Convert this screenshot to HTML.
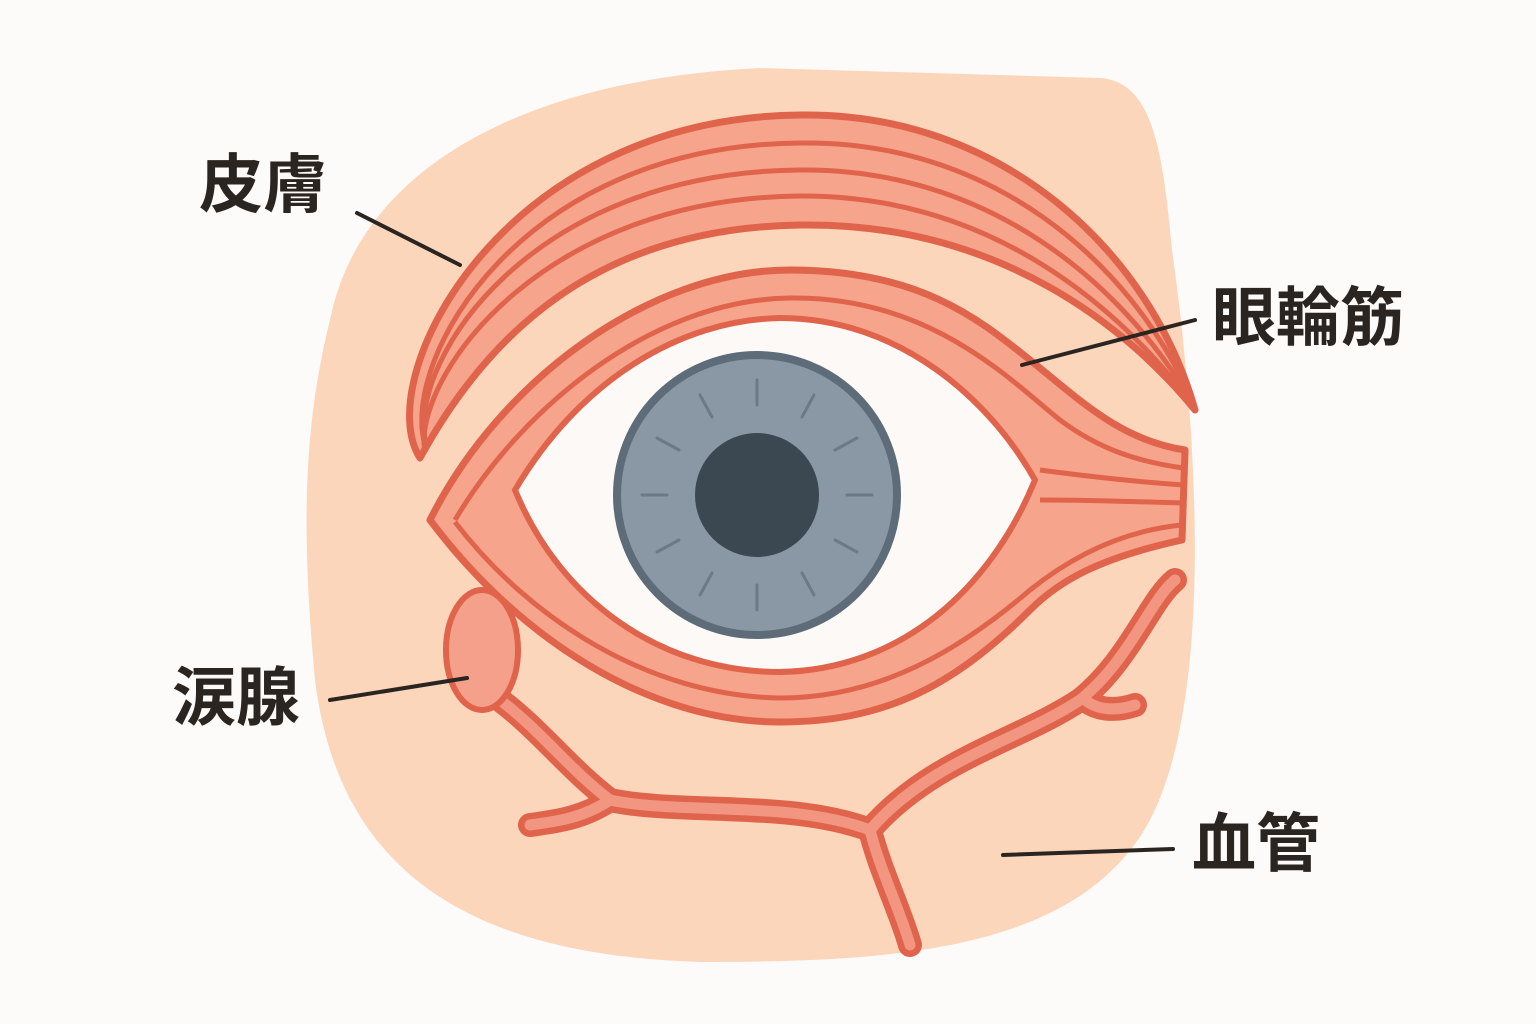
<!DOCTYPE html>
<html><head><meta charset="utf-8"><style>
html,body{margin:0;padding:0;background:#fdfbf9;}
svg{display:block}
text{font-family:"Liberation Sans","Noto Sans CJK JP",sans-serif;font-weight:700;fill:#2b2522;font-size:64px}
</style></head><body>
<svg width="1536" height="1024" viewBox="0 0 1536 1024">
<rect width="1536" height="1024" fill="#fdfbf9"/>
<path d="M330,320 C360,170 520,80 760,68 L1100,78 C1150,82 1162,140 1172,250 C1200,450 1212,700 1150,820 C1080,950 900,962 700,962 C480,955 340,880 315,680 C300,520 305,420 330,320 Z" fill="#fbd6bb"/>
<g stroke="#e0644c" stroke-linecap="round" fill="none">
<path d="M420,458 C370,380 500,118 800,115 C1000,112 1150,250 1195,410 C1130,330 1000,222 800,225 C600,228 490,330 420,458 Z" fill="#f6a48b" stroke-width="7" stroke-linejoin="round"/>
<path d="M425,445 C400,360 520,145 800,143 C990,140 1130,260 1192,400" stroke-width="5"/>
<path d="M425,440 C410,360 530,172 800,170 C985,168 1120,280 1192,402" stroke-width="5"/>
<path d="M424,445 C420,370 545,198 800,196 C980,195 1110,295 1193,405" stroke-width="5"/>
</g>
<path d="M430,520 C500,380 650,270 790,270 C920,270 980,320 1030,360 C1080,400 1120,440 1185,450 L1182,540 C1100,558 1060,580 1030,610 C950,690 880,722 780,722 C650,722 520,640 430,520 Z" fill="#f6a48b" stroke="#e0644c" stroke-width="7" stroke-linejoin="round"/>
<g stroke="#e0644c" stroke-width="5" fill="none">
<path d="M455,520 C520,410 650,300 790,298 C930,296 1010,380 1060,420 C1100,450 1140,462 1183,468"/>
<path d="M455,522 C530,620 650,696 780,698 C880,698 960,650 1030,590 C1080,550 1130,530 1182,525"/>
<path d="M1040,470 C1100,478 1140,482 1183,485"/>
<path d="M1040,500 C1100,500 1140,502 1183,503"/>
</g>
<path d="M515,490 C580,380 680,320 780,318 C900,318 990,400 1035,480 C990,590 900,670 780,672 C660,672 560,600 515,490 Z" fill="#fdf9f7" stroke="#e0644c" stroke-width="6"/>
<circle cx="757" cy="495" r="140" fill="#8a97a5" stroke="#5e6c7a" stroke-width="8"/>
<g stroke="#6c7a88" stroke-width="3" stroke-linecap="round">
<line x1="757" y1="380" x2="757" y2="405"/><line x1="757" y1="585" x2="757" y2="610"/>
<line x1="642" y1="495" x2="667" y2="495"/><line x1="847" y1="495" x2="872" y2="495"/>
<line x1="700" y1="395" x2="712" y2="417"/><line x1="814" y1="395" x2="802" y2="417"/>
<line x1="700" y1="595" x2="712" y2="573"/><line x1="814" y1="595" x2="802" y2="573"/>
<line x1="657" y1="438" x2="679" y2="450"/><line x1="857" y1="438" x2="835" y2="450"/>
<line x1="657" y1="552" x2="679" y2="540"/><line x1="857" y1="552" x2="835" y2="540"/>
</g>
<circle cx="757" cy="495" r="62" fill="#3b4852"/>
<g fill="none" stroke-linecap="round" stroke-linejoin="round">
<g stroke="#e0644c" stroke-width="24">
<path d="M500,700 C540,730 570,770 610,800 C680,815 790,800 870,830"/>
<path d="M610,800 C580,820 550,822 530,825"/>
<path d="M870,830 C930,760 1020,740 1080,700 C1130,660 1150,600 1175,580"/>
<path d="M1085,700 C1100,712 1120,710 1135,705"/>
<path d="M870,830 C880,870 900,910 910,945"/>
</g>
<g stroke="#f29682" stroke-width="11">
<path d="M500,700 C540,730 570,770 610,800 C680,815 790,800 870,830"/>
<path d="M610,800 C580,820 550,822 530,825"/>
<path d="M870,830 C930,760 1020,740 1080,700 C1130,660 1150,600 1175,580"/>
<path d="M1085,700 C1100,712 1120,710 1135,705"/>
<path d="M870,830 C880,870 900,910 910,945"/>
</g>
</g>
<ellipse cx="482" cy="650" rx="36" ry="60" fill="#f4a08a" stroke="#e0644c" stroke-width="6"/>
<g stroke="#2b2522" stroke-width="4" stroke-linecap="round">
<line x1="357" y1="213" x2="460" y2="265"/>
<line x1="1022" y1="365" x2="1195" y2="320"/>
<line x1="330" y1="700" x2="467" y2="678"/>
<line x1="1003" y1="855" x2="1173" y2="849"/>
</g>
<text x="199" y="207">皮膚</text>
<text x="1212" y="340">眼輪筋</text>
<text x="172" y="720">涙腺</text>
<text x="1192" y="866">血管</text>
</svg>
</body></html>
